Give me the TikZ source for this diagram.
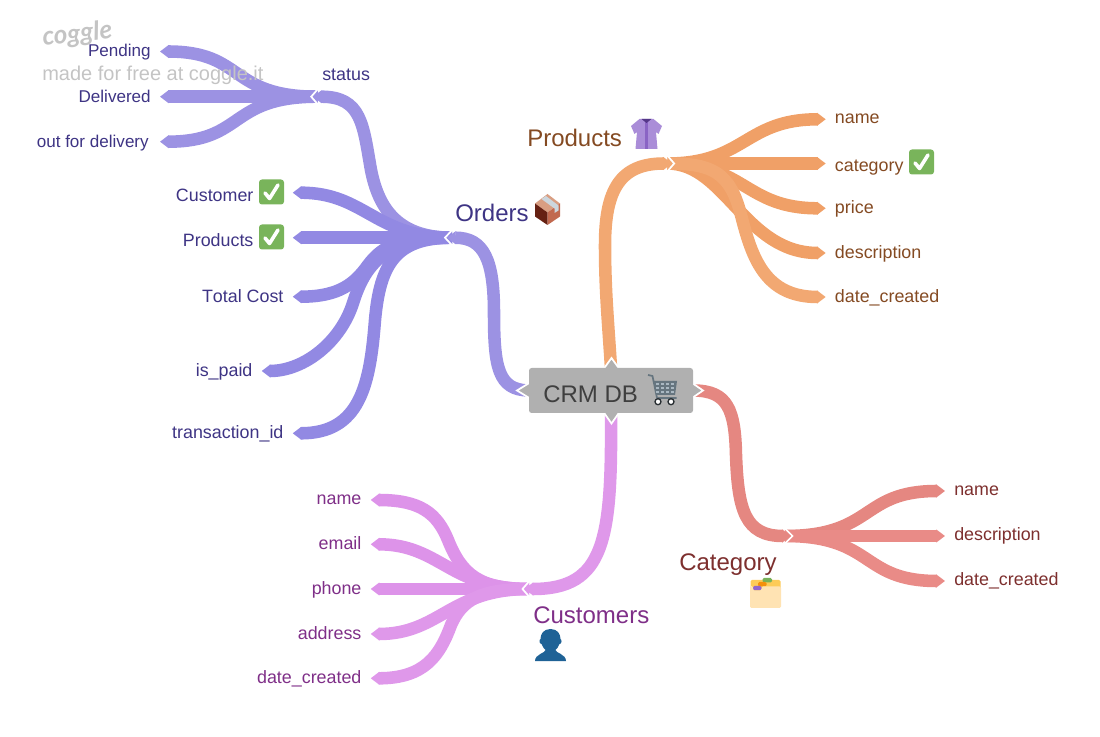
\documentclass[tikz,border=0pt]{standalone}
\usepackage{fontspec}
\setmainfont[Kerning=Off]{Liberation Sans}
\newfontfamily\coggleface{Lato}
\usepackage{xcolor}
\usepackage{tikz}
\usetikzlibrary{arrows.meta}
\usetikzlibrary{backgrounds}

\definecolor{ordersink}{HTML}{3E3484}
\definecolor{productsink}{HTML}{844A22}
\definecolor{categoryink}{HTML}{7D2F2E}
\definecolor{customersink}{HTML}{7F2F88}
\definecolor{ordersline}{HTML}{9C92E3}
\definecolor{orderskid}{HTML}{9289E3}
\definecolor{productsline}{HTML}{F2A872}
\definecolor{productskid}{HTML}{F0A067}
\definecolor{categoryline}{HTML}{E58781}
\definecolor{categorykid}{HTML}{E98B87}
\definecolor{customersline}{HTML}{DF98EA}
\definecolor{customerskid}{HTML}{DD93E9}
\definecolor{crmgray}{HTML}{B0B0B0}

\tikzset{
  branch/.style = {line width=9.4pt,-{Triangle[length=6.5pt,width=9.4pt]}},
  trunklabel/.style = {anchor=base west,inner sep=0pt,font=\fontsize{18}{22}\selectfont},
  leafleft/.style = {anchor=east,inner xsep=6.75pt,inner ysep=0pt,text height=11.25pt,text depth=3pt,font=\fontsize{13.4}{16}\selectfont},
  leafright/.style = {anchor=west,inner xsep=6.75pt,inner ysep=0pt,text height=11.25pt,text depth=3pt,font=\fontsize{13.4}{16}\selectfont},
  withcheck/.style = {text height=15.5pt},
  crmspike/.style = {draw=white,line width=1.3pt,fill=crmgray,line join=miter},
  notchline/.style = {white,line width=1.3pt,line join=miter},
  checkmark/.pic = {
    \fill[fill={rgb,255:red,121;green,180;blue,91},rounded corners=2.2pt] (-12.5,-12.5) rectangle (12.5,12.5);
    \draw[white,line width=2.7pt,line cap=round,line join=round] (-6.5,1) -- (-2,6.5) -- (6.5,-7);
  },
  parcel/.pic = {
    \fill[fill={rgb,255:red,217;green,158;blue,130}] (0,-15.5) -- (12.5,-6) -- (0,3) -- (-12.5,-6) -- cycle;
    \fill[fill={rgb,255:red,102;green,33;blue,19}] (-12.5,-6) -- (0,3) -- (0,15.5) -- (-12.5,7) -- cycle;
    \fill[fill={rgb,255:red,193;green,105;blue,79}] (12.5,-6) -- (0,3) -- (0,15.5) -- (12.5,7) -- cycle;
    \fill[fill={rgb,255:red,204;green,214;blue,221}] (-6,-10.5) -- (-1.5,-13.5) -- (11,-4) -- (11,1) -- (7,3.5) -- (7,-1) -- cycle;
  },
  blouse/.pic = {
    \fill[fill={rgb,255:red,170;green,141;blue,216}] (-7,-15) -- (7,-15) -- (15.5,-8) -- (12,0) -- (9.5,-2) -- (11,15) -- (-11,15) -- (-9.5,-2) -- (-12,0) -- (-15.5,-8) -- cycle;
    \fill[fill={rgb,255:red,138;green,100;blue,196}] (-1.5,-13) rectangle (1.5,15);
    \fill[fill={rgb,255:red,85;green,55;blue,136}] (-5,-15) -- (5,-15) -- (0,-11) -- cycle;
  },
  pushcart/.pic = {
    \draw[draw={rgb,255:red,102;green,117;blue,127},line width=1.3pt,line join=round] (-14.5,-15) -- (-10,-14) -- (-5.5,8) -- (14,8);
    \fill[fill={rgb,255:red,102;green,117;blue,127}] (-9,-9) -- (14.5,-9) -- (12.5,5) -- (-6,5) -- cycle;
    \foreach \cellx in {-5,0,5,10} {
      \foreach \celly in {-6,-2,2} {
        \fill[fill={rgb,255:red,170;green,184;blue,194}] (\cellx-1.7,\celly-1.2) rectangle (\cellx+1.7,\celly+1.2);
      }
    }
    \draw[draw={rgb,255:red,41;green,47;blue,51},fill=white,line width=1pt] (-4.5,11.7) circle (3);
    \draw[draw={rgb,255:red,41;green,47;blue,51},fill=white,line width=1pt] (8.5,11.7) circle (3);
  },
  cardfile/.pic = {
    \fill[fill={rgb,255:red,253;green,203;blue,88},rounded corners=1pt] (-15,-13) rectangle (15,0);
    \fill[fill={rgb,255:red,120;green,177;blue,89},rounded corners=1pt] (-3,-15) rectangle (6.5,-10.5);
    \fill[fill={rgb,255:red,244;green,144;blue,12},rounded corners=1pt] (-7.5,-11) rectangle (1,-6.5);
    \fill[fill={rgb,255:red,146;green,102;blue,204},rounded corners=1pt] (-12.5,-7) rectangle (-4,-2.5);
    \fill[fill={rgb,255:red,255;green,227;blue,179},rounded corners=1pt] (-15.5,-7) -- (-12.5,-7) -- (-12.5,-2.5) -- (-4,-2.5) -- (-4,-6.5) -- (15.5,-6.5) -- (15.5,15) -- (-15.5,15) -- cycle;
  },
  bustfigure/.pic = {
    \fill[fill={rgb,255:red,31;green,98;blue,150}] (0,-16) .. controls (7,-16) and (10,-11) .. (10,-6) .. controls (12,-5) and (11,-1) .. (9,-1) .. controls (8,2) and (6,4) .. (5,5) .. controls (5,8) and (15.5,9) .. (15.5,16) -- (-15.5,16) .. controls (-15.5,9) and (-5,8) .. (-5,5) .. controls (-6,4) and (-8,2) .. (-9,-1) .. controls (-11,-1) and (-12,-5) .. (-10,-6) .. controls (-10,-11) and (-7,-16) .. (0,-16) -- cycle;
  }
}

\newcommand{\notchat}[2]{\draw[notchline] ([shift={(0,-7.5)}]#1) -- ([shift={(#2,0)}]#1) -- ([shift={(0,7.5)}]#1);}

\begin{document}
\begin{tikzpicture}[x=0.75pt,y=-0.75pt]
    \useasboundingbox (0,0) rectangle (1100,737);

    \coordinate (statusjoin) at (317.7,96.7);
    \coordinate (statusend) at (313,96.7);
    \coordinate (ordersjoin) at (452,237.7);
    \coordinate (ordersend) at (447,237.7);
    \coordinate (productsjoin) at (667.7,163.5);
    \coordinate (productsend) at (672,163.5);
    \coordinate (categoryjoin) at (785,536);
    \coordinate (categoryend) at (791,536);
    \coordinate (customersjoin) at (529,589);
    \coordinate (customersend) at (524.5,589);

    \draw[crmspike] (535,379.5) -- (517,390.5) -- (535,401.5) -- cycle;
    \draw[crmspike] (687,379.5) -- (703,390.5) -- (687,401.5) -- cycle;
    \draw[crmspike] (600,374) -- (611.5,358) -- (623,374) -- cycle;
    \draw[crmspike] (600,407) -- (611.5,423.5) -- (623,407) -- cycle;
    \node[fill=crmgray,rounded corners=2pt,minimum width=123pt,minimum height=33.75pt,inner sep=0pt](crm) at (611,390.5) {};
    \node[trunklabel,text={rgb,255:red,63;green,63;blue,63}](crmlabel) at (543,403) {CRM DB};
    \pic at (662.5,390) {pushcart};

    \node[trunklabel,text=ordersink](orders) at (455,222) {Orders};
    \pic at (547.5,209.5) {parcel};
    \node[trunklabel,text=productsink](products) at (527,147) {Products};
    \pic at (646.5,134) {blouse};
    \node[trunklabel,text=categoryink](category) at (679,571) {Category};
    \pic at (765.5,593) {cardfile};
    \node[trunklabel,text=customersink](customers) at (533,623.5) {Customers};
    \pic at (550.5,645) {bustfigure};
    \node[trunklabel,text=ordersink,font=\fontsize{13.4}{16}\selectfont](status) at (322,81) {status};

    \node[leafleft,text=ordersink,font=\fontsize{12.8}{16}\selectfont](pending) at (160,51.5) {Pending};
    \node[leafleft,text=ordersink,font=\fontsize{12.8}{16}\selectfont](delivered) at (160,96.7) {Delivered};
    \node[leafleft,text=ordersink,font=\fontsize{12.8}{16}\selectfont](outfordelivery) at (160,141.7) {out for delivery\kern1.5pt};
    \node[leafleft,withcheck,text=ordersink](customerfield) at (292.7,192.7) {Customer\kern22.5pt};
    \pic at (271.5,192) {checkmark};
    \node[leafleft,withcheck,text=ordersink](productsfield) at (292.7,237.7) {Products\kern22.5pt};
    \pic at (271.5,237) {checkmark};
    \node[leafleft,text=ordersink](totalcost) at (292.7,296.7) {Total Cost};
    \node[leafleft,text=ordersink](ispaid) at (261.7,371) {is\_paid};
    \node[leafleft,text=ordersink](transactionid) at (292.7,433.3) {transaction\_id};

    \node[leafright,text=productsink,text height=9.5pt](productname) at (825.7,119.3) {name};
    \node[leafright,withcheck,text=productsink](productcategory) at (825.7,163.5) {category};
    \pic at (921.5,162) {checkmark};
    \node[leafright,text=productsink](productprice) at (825.7,208.3) {price};
    \node[leafright,text=productsink](productdescription) at (825.7,253) {description};
    \node[leafright,text=productsink](productdate) at (825.7,297) {date\_created};

    \node[leafright,text=categoryink,text height=10.25pt](categoryname) at (945,491) {name};
    \node[leafright,text=categoryink,text height=10.25pt](categorydescription) at (945,536) {description};
    \node[leafright,text=categoryink,text height=10.25pt](categorydate) at (945,581) {date\_created};

    \node[leafleft,text=customersink,text height=10.5pt](customername) at (370.7,500) {name};
    \node[leafleft,text=customersink](customeremail) at (370.7,544.3) {email};
    \node[leafleft,text=customersink](customerphone) at (370.7,589) {phone};
    \node[leafleft,text=customersink](customeraddress) at (370.7,634) {address};
    \node[leafleft,text=customersink](customerdate) at (370.7,678.3) {date\_created};

    \begin{scope}[on background layer]
    \draw [branch,ordersline] (statusjoin) .. controls (228,96.7) and (245,51.5) .. (pending.east);
    \draw [branch,ordersline] (statusjoin) -- (delivered.east);
    \draw [branch,ordersline] (statusjoin) .. controls (228,96.7) and (245,141.7) .. (outfordelivery.east);
    \notchat{statusjoin}{-6.5}
    \draw [branch,ordersline] (ordersjoin) .. controls (395,237.7) and (378,205) .. (371,170) .. controls (363,125) and (362,96.7) .. (statusend);

    \draw [branch,orderskid] (ordersjoin) .. controls (375,237.7) and (365,192.7) .. (customerfield.east);
    \draw [branch,orderskid] (ordersjoin) -- (productsfield.east);
    \draw [branch,orderskid] (ordersjoin) .. controls (400,237.7) and (383,245) .. (368,265) .. controls (355,283) and (340,296.7) .. (totalcost.east);
    \draw [branch,orderskid] (ordersjoin) .. controls (385,237.7) and (365,265) .. (353,303) .. controls (341,341) and (305,371) .. (ispaid.east);
    \draw [branch,orderskid] (ordersjoin) .. controls (395,237.7) and (380,265) .. (375,320) .. controls (370,385) and (360,433.3) .. (transactionid.east);
    \notchat{ordersjoin}{-7}
    \draw [branch,ordersline] (crm.west) .. controls (498,390) and (494,367) .. (494,313) .. controls (494,260) and (484,237.7) .. (ordersend);

    \draw [branch,productskid] (productsjoin) .. controls (745,163.5) and (745,119.3) .. (productname.west);
    \draw [branch,productskid] (productsjoin) -- (productcategory.west);
    \draw [branch,productskid] (productsjoin) .. controls (745,163.5) and (745,208.3) .. (productprice.west);
    \draw [branch,productskid] (productsjoin) .. controls (725,163.5) and (745,253) .. (productdescription.west);
    \draw [branch,productsline] (productsjoin) .. controls (712,163.5) and (730,172) .. (741,215) .. controls (752,258) and (765,297) .. (productdate.west);
    \notchat{productsjoin}{6.5}
    \draw [branch,productsline] (crm.north) .. controls (608,320) and (605,290) .. (605,245) .. controls (605,190) and (620,163.5) .. (productsend);

    \draw [branch,categoryline] (categoryjoin) .. controls (875,536) and (860,491) .. (categoryname.west);
    \draw [branch,categorykid] (categoryjoin) -- (categorydescription.west);
    \draw [branch,categorykid] (categoryjoin) .. controls (875,536) and (860,581) .. (categorydate.west);
    \notchat{categoryjoin}{7.5}
    \draw [branch,categoryline] (crm.east) .. controls (728,390.5) and (735,410) .. (736,455) .. controls (738,510) and (745,536) .. (categoryend);

    \draw [branch,customerskid] (customersjoin) .. controls (480,589) and (462,575) .. (448,540) .. controls (437,513) and (420,500) .. (customername.east);
    \draw [branch,customerskid] (customersjoin) .. controls (450,589) and (440,544.3) .. (customeremail.east);
    \draw [branch,customerskid] (customersjoin) -- (customerphone.east);
    \draw [branch,customersline] (customersjoin) .. controls (450,589) and (440,634) .. (customeraddress.east);
    \draw [branch,customersline] (customersjoin) .. controls (480,589) and (462,600) .. (451,625) .. controls (440,655) and (425,678.3) .. (customerdate.east);
    \notchat{customersjoin}{-6.5}
    \draw [branch,customersline] (crm.south) .. controls (612,540) and (605,589) .. (customersend);
    \end{scope}

    \node[anchor=base west,inner sep=0pt,text={rgb,255:red,196;green,196;blue,196},font=\fontsize{15}{18}\selectfont](madefor) at (42,80.5) {made for free at coggle.it};
    \node[anchor=base west,inner sep=0pt,rotate=6,text={rgb,255:red,196;green,196;blue,196},font=\coggleface\itshape\bfseries\fontsize{19.5}{22}\selectfont](coggle) at (43,46) {coggle};
\end{tikzpicture}
\end{document}
